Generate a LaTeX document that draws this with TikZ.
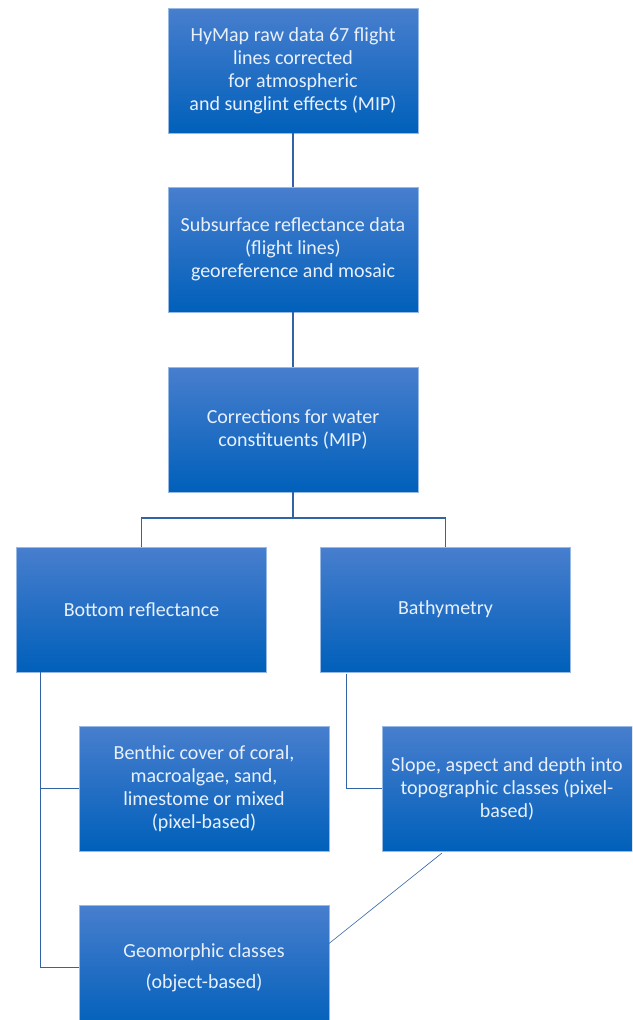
\documentclass[tikz,border=0pt]{standalone}
\usepackage{fontspec}
\setmainfont{Carlito}
\usetikzlibrary{positioning,calc}
\definecolor{cTop}{RGB}{72,126,206}
\definecolor{cMid}{RGB}{0,112,204}
\definecolor{cBot}{RGB}{0,96,186}
\definecolor{cEdge}{RGB}{150,185,230}
\definecolor{cLink}{RGB}{50,100,165}
\definecolor{cText}{RGB}{232,240,252}
\tikzset{
  stage/.style={rectangle, draw=cEdge, line width=0.6pt, top color=cTop, middle color=cMid,
                bottom color=cBot, minimum width=250pt, minimum height=125pt, inner sep=0pt,
                outer sep=0pt, align=center, text=cText,
                font=\fontsize{20}{23}\selectfont},
  link/.style={draw=cLink, line width=1.3pt},
  thinlink/.style={draw=cLink, line width=0.6pt},
}

\begin{document}
\begin{tikzpicture}[x=1pt, y=1pt]
  \fill[white] (0,0) rectangle (632,-1020);
  \useasboundingbox (0,0) rectangle (632,-1020);
  \clip (0,0) rectangle (632,-1020);

  \node[stage] (raw) at (293,-70.5) {HyMap raw data 67 flight\\ lines corrected\\ for atmospheric\\ and sunglint effects (MIP)};
  \node[stage, below=54pt of raw] (subs) {Subsurface reflectance data\\ (flight lines)\\ georeference and mosaic};
  \node[stage, below=55pt of subs] (corr) {Corrections for water\\ constituents (MIP)};
  \node[stage, below=55pt of corr, xshift=-151.5pt] (bot) {Bottom reflectance};
  \node[stage, below=55pt of corr, xshift=152.5pt] (bath) {Bathymetry};
  \node[stage, below=54pt of bot, xshift=62.5pt] (benth) {Benthic cover of coral,\\ macroalgae, sand,\\ limestome or mixed\\ (pixel-based)};
  \node[stage, below=54pt of bath, xshift=61.5pt] (slope) {Slope, aspect and depth into\\ topographic classes (pixel-\\ based)};
  \node[stage, below=54pt of benth, font=\fontsize{20}{31}\selectfont] (geo) {Geomorphic classes\\ (object-based)};

  \coordinate (fork) at ($(corr.south)+(0,-26pt)$);
  \draw[link] (raw) -- (subs);
  \draw[link] (subs) -- (corr);
  \draw[link] (corr.south) -- (fork);
  \draw[link] (fork) -| (bot.north);
  \draw[link] (fork) -| (bath.north);
  \draw[link] ([xshift=24pt]bot.south west) |- (benth.west);
  \draw[link] ([xshift=24pt]bot.south west) |- (geo.west);
  \draw[link] ([xshift=26pt, yshift=-2pt]bath.south west) |- (slope.west);
  \draw[thinlink] ([xshift=60pt, yshift=-2pt]slope.south west) -- ([yshift=24pt]geo.east);
\end{tikzpicture}
\end{document}
